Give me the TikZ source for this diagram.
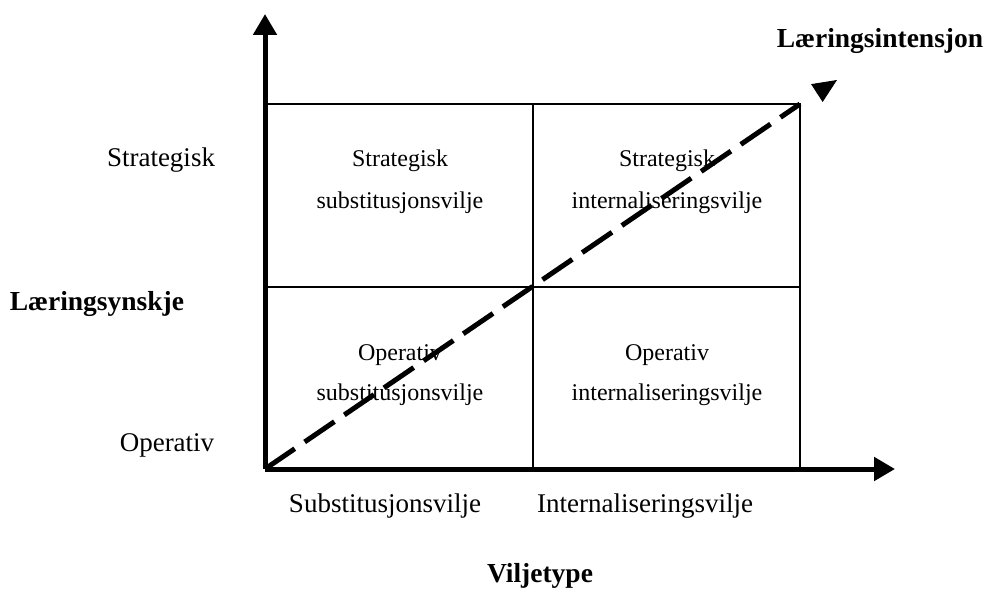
\documentclass[tikz,border=0pt]{standalone}
\usepackage{fontspec}
\setmainfont{Liberation Serif}
\usetikzlibrary{arrows.meta}
\begin{document}
\begin{tikzpicture}[x=1pt,y=-1pt,
  axis/.style={line width=5pt,-{Triangle[length=21pt,width=23pt]}},
  grid/.style={line width=1.8pt},
  trend/.style={line width=5pt,dash pattern=on 36pt off 12pt},
  tiphead/.style={line width=1pt,-{Triangle[length=24pt,width=21pt]}},
  lbl/.style={anchor=base,inner sep=0pt,font=\fontsize{27}{31}\selectfont},
  title/.style={anchor=base,inner sep=0pt,font=\fontsize{27.5}{31}\selectfont\bfseries},
  cell/.style={anchor=base,inner sep=0pt,font=\fontsize{24}{28}\selectfont}]
  \useasboundingbox (0,0) rectangle (987,596);

  % reference points
  \coordinate (O) at (265,469);
  \coordinate (ytop) at (265,14);
  \coordinate (xend) at (895,469);
  \coordinate (TL) at (265,104);
  \coordinate (TM) at (533,104);
  \coordinate (TR) at (800,104);
  \coordinate (BM) at (533,469);
  \coordinate (BR) at (800,469);
  \coordinate (ML) at (265,287);
  \coordinate (MR) at (800,287);
  \coordinate (tip) at (837,80);

  % 2x2 grid
  \draw[grid] (TL) -- (TR) -- (BR);
  \draw[grid] (TM) -- (BM);
  \draw[grid] (ML) -- (MR);

  % axes
  \draw[axis] (O) -- (ytop);
  \draw[axis] (O) -- (xend);

  % dashed diagonal with detached head
  \draw[trend] (O) -- (TR);
  \draw[tiphead,shorten <=20pt] (TR) -- (tip);

  % axis labels
  \node[title] (lint) at (880,48) {Læringsintensjon};
  \node[title] (lsyn) at (97,310) {Læringsynskje};
  \node[title] (vtype) at (540,582) {Viljetype};
  \node[lbl] (ystrat) at (161,167) {Strategisk};
  \node[lbl] (yop) at (167,451) {Operativ};
  \node[lbl] (xsub) at (385,512) {Substitusjonsvilje};
  \node[lbl] (xint) at (645,512) {Internaliseringsvilje};

  % cell texts
  \node[cell] (c1a) at (400,167) {Strategisk};
  \node[cell] (c1b) at (400,208) {substitusjonsvilje};
  \node[cell] (c2a) at (667,167) {Strategisk};
  \node[cell] (c2b) at (667,208) {internaliseringsvilje};
  \node[cell] (c3a) at (400,360) {Operativ};
  \node[cell] (c3b) at (400,400) {substitusjonsvilje};
  \node[cell] (c4a) at (667,360) {Operativ};
  \node[cell] (c4b) at (667,400) {internaliseringsvilje};
\end{tikzpicture}
\end{document}
